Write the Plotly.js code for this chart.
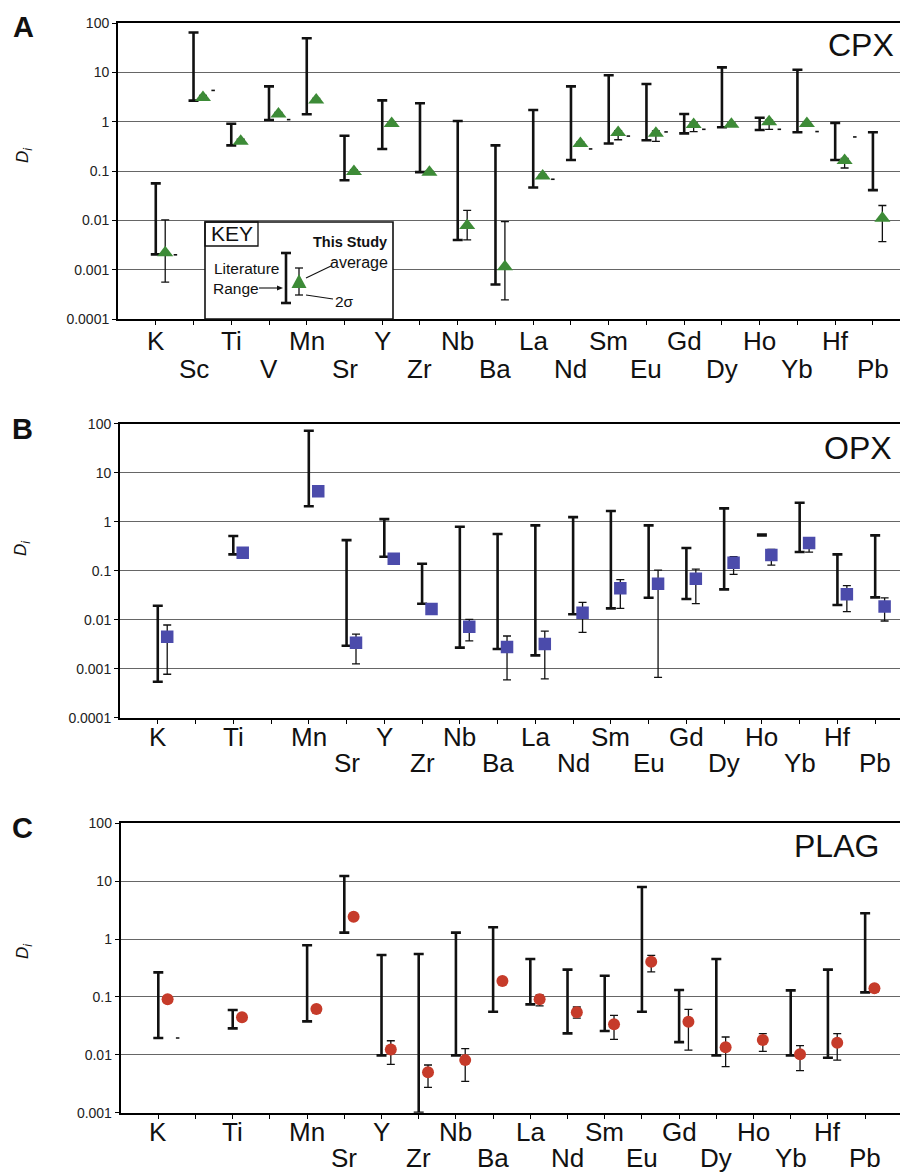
<!DOCTYPE html>
<html>
<head>
<meta charset="utf-8">
<script src="https://cdn.plot.ly/plotly-3.0.1.min.js"></script>
<style>html,body{margin:0;padding:0;background:#fff;}#chart{width:901px;height:1172px;}</style>
</head>
<body>
<div id="chart"></div>
<script>
// ---------------- DATA ----------------
const elements = ['K','Sc','Ti','V','Mn','Sr','Y','Zr','Nb','Ba','La','Nd','Sm','Eu','Gd','Dy','Ho','Yb','Hf','Pb'];
const labelsCPX  = ['K','Sc','Ti','V','Mn','Sr','Y','Zr','Nb','Ba','La','Nd','Sm','Eu','Gd','Dy','Ho','Yb','Hf','Pb'];
const labelsOPX  = ['K','','Ti','','Mn','Sr','Y','Zr','Nb','Ba','La','Nd','Sm','Eu','Gd','Dy','Ho','Yb','Hf','Pb'];
const labelsPLAG = ['K','','Ti','','Mn','Sr','Y','Zr','Nb','Ba','La','Nd','Sm','Eu','Gd','Dy','Ho','Yb','Hf','Pb'];

const yTickVals = [0.0001, 0.001, 0.01, 0.1, 1, 10, 100];
const yTickText = ['0.0001','0.001','0.01','0.1','1','10','100'];

// CPX
const cpxLitLow  = [0.00204, 2.67, 0.33, 1.08, 1.41, 0.065, 0.28, 0.095, 0.0040, 0.0005, 0.0464, 0.167, 0.36, 0.42, 0.58, 0.77, 0.68, 0.61, 0.167, 0.041];
const cpxLitHigh = [0.056, 64, 0.91, 5.2, 49, 0.52, 2.7, 2.36, 1.03, 0.33, 1.72, 5.2, 8.7, 5.8, 1.43, 12.6, 1.2, 11.3, 0.94, 0.61];
const cpxAvg     = [0.0022, 3.1, 0.40, 1.43, 2.75, 0.098, 0.92, 0.094, 0.0079, 0.00115, 0.079, 0.36, 0.60, 0.58, 0.88, 0.89, 1.0, 0.92, 0.163, 0.011];
const cpxSigHigh = [0.0102, 3.4, 0.44, 1.55, 2.95, 0.105, 0.98, 0.10, 0.0159, 0.0094, 0.085, 0.39, 0.66, 0.65, 0.95, 0.95, 1.07, 0.98, 0.18, 0.020];
const cpxSigLow  = [0.00056, 2.85, 0.37, 1.32, 2.55, 0.092, 0.86, 0.088, 0.0040, 0.000245, 0.073, 0.33, 0.43, 0.40, 0.63, 0.83, 0.70, 0.86, 0.115, 0.0037];
const cpxDash    = [0.002, 4.3, null, 1.1, null, null, null, null, null, null, 0.068, 0.28, 0.51, 0.62, 0.70, null, 0.70, 0.63, 0.49, null];

// OPX
const opxLitLow  = [0.00054, null, 0.215, null, 2.06, 0.00295, 0.193, 0.0212, 0.00269, 0.00252, 0.00187, 0.0129, 0.017, 0.0281, 0.0264, 0.0416, 0.525, 0.24, 0.0199, 0.0286];
const opxLitHigh = [0.0193, null, 0.51, null, 72, 0.42, 1.13, 0.139, 0.79, 0.56, 0.84, 1.24, 1.65, 0.84, 0.29, 1.87, 0.545, 2.44, 0.215, 0.526];
const opxAvg     = [0.0045, null, 0.233, null, 4.16, 0.0034, 0.176, 0.0165, 0.0072, 0.00277, 0.0032, 0.0139, 0.0436, 0.0543, 0.0687, 0.1455, 0.209, 0.367, 0.0329, 0.0187];
const opxSigHigh = [0.0078, null, 0.25, null, 4.4, 0.0051, 0.19, 0.0175, 0.0102, 0.00465, 0.00587, 0.0226, 0.0655, 0.103, 0.108, 0.193, 0.272, 0.39, 0.0494, 0.028];
const opxSigLow  = [0.00077, null, 0.215, null, 3.9, 0.00125, 0.163, 0.0155, 0.0037, 0.00059, 0.00062, 0.0055, 0.017, 0.000665, 0.0212, 0.084, 0.13, 0.24, 0.0146, 0.0094];

// PLAG
const plagLitLow  = [0.0195, null, 0.0286, null, 0.0378, 1.29, 0.0098, 0.001, 0.0098, 0.0556, 0.0745, 0.0235, 0.0258, 0.0556, 0.0166, 0.0098, null, 0.0098, 0.0089, 0.12];
const plagLitHigh = [0.266, null, 0.0594, null, 0.78, 12.3, 0.53, 0.552, 1.29, 1.6, 0.453, 0.296, 0.233, 7.94, 0.132, 0.453, null, 0.13, 0.296, 2.79];
const plagAvg     = [0.091, null, 0.0444, null, 0.0618, 2.44, 0.0124, 0.00498, 0.0081, 0.188, 0.091, 0.0542, 0.0337, 0.407, 0.0374, 0.0135, 0.018, 0.0102, 0.0162, 0.141];
const plagSigHigh = [0.10, null, 0.051, null, 0.07, 2.7, 0.0175, 0.00667, 0.0128, 0.20, 0.108, 0.067, 0.048, 0.524, 0.061, 0.0203, 0.0232, 0.0144, 0.0232, 0.16];
const plagSigLow  = [0.083, null, 0.039, null, 0.053, 2.2, 0.00684, 0.00274, 0.00347, 0.176, 0.07, 0.043, 0.0185, 0.27, 0.0121, 0.00624, 0.0115, 0.00532, 0.0081, 0.12];
const plagDash    = [0.0195, null, null, null, null, null, null, null, null, null, null, null, null, null, null, null, null, null, null, null];

// ---------------- LAYOUT HELPERS ----------------
const W = 901, H = 1172;
const FONT = 'Liberation Sans, Arial, Helvetica, sans-serif';
const px = x => x / W;
const py = y => 1 - y / H;

function panelTraces(xa, ya, low, high, avg, sHi, sLo, dash, color, symbol, size) {
  const idx = elements.map((_, i) => i);
  const tr = [];
  tr.push({
    type: 'scatter', mode: 'markers', xaxis: xa, yaxis: ya, hoverinfo: 'skip', showlegend: false,
    x: idx, y: low,
    marker: {size: 2, color: 'rgba(0,0,0,0)'},
    error_y: {type: 'data', symmetric: false,
      array: high.map((h, i) => h == null ? null : h - low[i]),
      arrayminus: low.map(v => v == null ? null : 0),
      color: '#111', thickness: 2.6, width: 5}
  });
  if (dash) {
    tr.push({
      type: 'scatter', mode: 'markers', xaxis: xa, yaxis: ya, hoverinfo: 'skip', showlegend: false,
      x: idx.map(i => i + 0.52), y: dash,
      marker: {symbol: 'line-ew', size: 2.5, color: '#111', line: {width: 1.6, color: '#111'}}
    });
  }
  tr.push({
    type: 'scatter', mode: 'markers', xaxis: xa, yaxis: ya, hoverinfo: 'skip', showlegend: false,
    x: idx.map(i => i + 0.25), y: avg,
    marker: {symbol: symbol, size: size, color: color, line: {width: 0}},
    error_y: {type: 'data', symmetric: false,
      array: sHi.map((h, i) => (h == null || avg[i] == null) ? null : Math.max(0, h - avg[i])),
      arrayminus: sLo.map((l, i) => (l == null || avg[i] == null) ? null : Math.max(0, avg[i] - l)),
      color: '#111', thickness: 1.3, width: 4}
  });
  return tr;
}

const traces = [].concat(
  panelTraces('x', 'y', cpxLitLow, cpxLitHigh, cpxAvg, cpxSigHigh, cpxSigLow, cpxDash, '#3d8b37', 'triangle-up', 14),
  panelTraces('x2', 'y2', opxLitLow, opxLitHigh, opxAvg, opxSigHigh, opxSigLow, null, '#4b4bab', 'square', 12.5),
  panelTraces('x3', 'y3', plagLitLow, plagLitHigh, plagAvg, plagSigHigh, plagSigLow, plagDash, '#c63b2a', 'circle', 12)
);

function xAxis(domain, range, anchor) {
  return {domain: domain, range: range, anchor: anchor, type: 'linear',
    showgrid: false, zeroline: false, showline: true, linecolor: '#000', linewidth: 2, mirror: true,
    tickmode: 'array', tickvals: elements.map((_, i) => i), ticks: 'outside', ticklen: 4,
    tickcolor: '#000', tickwidth: 1, showticklabels: false, fixedrange: true};
}
function yAxis(domain, range, anchor) {
  return {domain: domain, range: range, anchor: anchor, type: 'log',
    showgrid: true, gridcolor: '#666', gridwidth: 1, zeroline: false,
    showline: true, linecolor: '#000', linewidth: 2,
    tickmode: 'array', tickvals: yTickVals, ticktext: yTickText,
    ticks: 'outside', ticklen: 4, tickcolor: '#000', tickwidth: 1,
    tickfont: {family: FONT, size: 14, color: '#222'}, fixedrange: true};
}

const annotations = [];
function addLabels(labels, xref, topY, botY) {
  labels.forEach((t, i) => {
    if (!t) return;
    annotations.push({xref: xref, yref: 'paper', x: i, y: py(i % 2 === 0 ? topY : botY),
      text: t, showarrow: false, xanchor: 'center', yanchor: 'middle',
      font: {family: FONT, size: 26, color: '#111'}});
  });
}
addLabels(labelsCPX, 'x', 341, 368.5);
addLabels(labelsOPX, 'x2', 736.5, 762.8);
addLabels(labelsPLAG, 'x3', 1132, 1157.5);

function txt(x, y, text, size, opts) {
  annotations.push(Object.assign({xref: 'paper', yref: 'paper', x: px(x), y: py(y), text: text,
    showarrow: false, xanchor: 'center', yanchor: 'middle',
    font: {family: FONT, size: size, color: '#111'}}, opts || {}));
}
// panel letters
txt(23, 26.5, '<b>A</b>', 29);
txt(22.5, 429, '<b>B</b>', 29);
txt(22, 827.5, '<b>C</b>', 29);
// y titles
txt(24, 156, '<i>D<sub>i</sub></i>', 17, {textangle: -90});
txt(22, 549, '<i>D<sub>i</sub></i>', 17, {textangle: -90});
txt(24, 952, '<i>D<sub>i</sub></i>', 17, {textangle: -90});
// mineral names
txt(896, 44.5, 'CPX', 32, {xanchor: 'right'});
txt(894, 448, 'OPX', 32, {xanchor: 'right'});
txt(881, 846, 'PLAG', 32, {xanchor: 'right'});
// key texts
txt(231.5, 234, 'KEY', 21);
txt(389, 242, '<b>This Study</b>', 14.5, {xanchor: 'right'});
txt(359, 262, 'average', 16);
txt(246, 268.5, 'Literature', 15.5);
txt(236, 288.5, 'Range', 15.5);
txt(344, 301, '2σ', 15.5);

const shapes = [];
function line(x0, y0, x1, y1, w) {
  shapes.push({type: 'line', xref: 'paper', yref: 'paper', x0: px(x0), y0: py(y0), x1: px(x1), y1: py(y1),
    line: {color: '#111', width: w}, layer: 'above'});
}
// key box
shapes.push({type: 'rect', xref: 'paper', yref: 'paper', x0: px(205), y0: py(319), x1: px(393), y1: py(222),
  line: {color: '#111', width: 1.6}, fillcolor: '#fff', layer: 'above'});
shapes.push({type: 'rect', xref: 'paper', yref: 'paper', x0: px(205), y0: py(246), x1: px(258), y1: py(222),
  line: {color: '#111', width: 1.3}, fillcolor: 'rgba(0,0,0,0)', layer: 'above'});
// key literature range bar
line(286, 253, 286, 303, 2.6);
line(281, 253, 291, 253, 2.6);
line(281, 303, 291, 303, 2.6);
// key 2 sigma bar
line(299, 268, 299, 295, 1.3);
line(295, 268, 303, 268, 1.3);
line(295, 295, 303, 295, 1.3);
// key triangle
const tx = 299, ty = 283, tr = 7.5;
shapes.push({type: 'path', xref: 'paper', yref: 'paper', layer: 'above',
  path: `M ${px(tx - tr)} ${py(ty + 5)} L ${px(tx + tr)} ${py(ty + 5)} L ${px(tx)} ${py(ty - 9)} Z`,
  fillcolor: '#3d8b37', line: {width: 0}});
// pointers
line(259, 288, 279, 288, 1.1);
shapes.push({type: 'path', xref: 'paper', yref: 'paper', layer: 'above',
  path: `M ${px(283)} ${py(288)} L ${px(277)} ${py(285.5)} L ${px(277)} ${py(290.5)} Z`,
  fillcolor: '#111', line: {width: 0}});
line(331, 266, 306, 278, 1.1);
line(333, 299, 306, 295, 1.1);

const layout = {
  width: W, height: H, margin: {l: 0, r: 0, t: 0, b: 0},
  paper_bgcolor: '#fff', plot_bgcolor: '#fff', showlegend: false,
  font: {family: FONT, color: '#111'},
  xaxis:  xAxis([0.131, 0.999], [-1, 19.72], 'y'),
  yaxis:  yAxis([py(319), py(23)], [-4, 2], 'x'),
  xaxis2: xAxis([0.1332, 0.999], [-1, 19.66], 'y2'),
  yaxis2: yAxis([py(717.7), py(423.7)], [-4, 2], 'x2'),
  xaxis3: xAxis([0.134, 0.999], [-1.01, 19.94], 'y3'),
  yaxis3: yAxis([py(1112.7), py(823.3)], [-3, 2], 'x3'),
  annotations: annotations,
  shapes: shapes
};

Plotly.newPlot('chart', traces, layout, {displayModeBar: false, staticPlot: true});
</script>
</body>
</html>
